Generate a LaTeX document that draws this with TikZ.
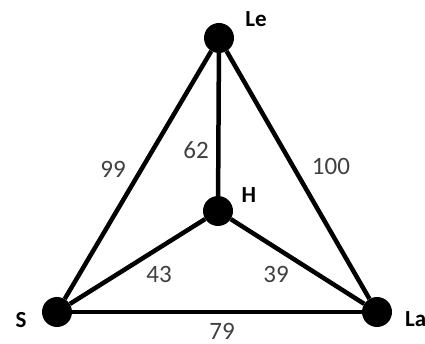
\documentclass[tikz,border=0pt]{standalone}
\usepackage{fontspec}
\setmainfont{Carlito}
\usetikzlibrary{positioning}

\begin{document}
\begin{tikzpicture}[
    x=1pt, y=-1pt,
    vertex/.style={circle, fill=black, minimum size=30pt, inner sep=0pt},
    vlabel/.style={font=\fontsize{23}{23}\selectfont\bfseries, text=black, inner sep=0pt},
    weight/.style={font=\fontsize{25}{25}\selectfont, text=black!75, inner sep=0pt},
    edge/.style={line width=4.5pt},
]
\useasboundingbox (0,0) rectangle (425,344);

% Vertices
\node[vertex] (le) at (219,38) {};
\node[vertex] (h) at (218,211) {};
\node[vertex] (s) at (57,312) {};
\node[vertex] (la) at (377,312) {};

% Names
\node[vlabel] (lelabel) at (256,19) {Le};
\node[vlabel] (hlabel) at (249,195) {H};
\node[vlabel] (slabel) at (21,320) {S};
\node[vlabel, anchor=west] (lalabel) at (405,319) {La};

% Edges
\draw[edge] (le) -- (h);
\draw[edge] (le) -- (s);
\draw[edge] (le) -- (la);
\draw[edge] (h) -- (s);
\draw[edge] (h) -- (la);
\draw[edge] (s) -- (la);

% Weights
\node[weight] (w99) at (113,169) {99};
\node[weight] (w62) at (196,150) {62};
\node[weight] (w100) at (331,166) {100};
\node[weight] (w43) at (159,274) {43};
\node[weight] (w39) at (276,274) {39};
\node[weight] (w79) at (222,331) {79};

\end{tikzpicture}
\end{document}
